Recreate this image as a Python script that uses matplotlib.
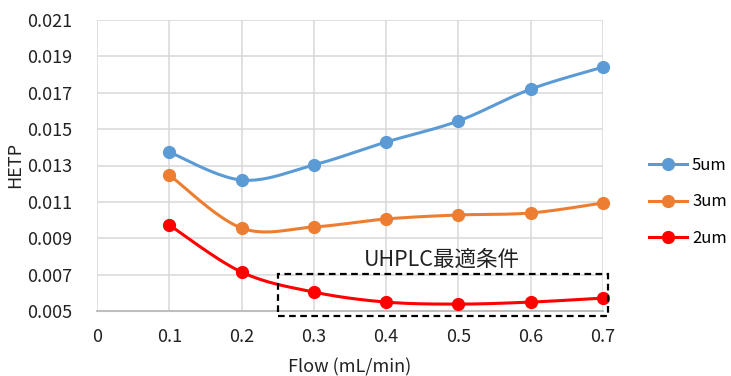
import numpy as np
import matplotlib
matplotlib.use("Agg")
import matplotlib.pyplot as plt
from matplotlib.lines import Line2D
from matplotlib.patches import Rectangle

plt.rcParams['font.family'] = ['Noto Sans CJK JP', 'DejaVu Sans']

flow = [0.1, 0.2, 0.3, 0.4, 0.5, 0.6, 0.7]
hetp_5um = [0.01374, 0.01220, 0.01303, 0.01429, 0.01545, 0.01720, 0.01841]
hetp_3um = [0.01248, 0.00956, 0.00962, 0.01006, 0.01028, 0.01039, 0.01094]
hetp_2um = [0.00973, 0.00714, 0.00604, 0.00549, 0.00538, 0.00549, 0.00571]
series_names = ["5um", "3um", "2um"]
series_colors = ["#5B9BD5", "#ED7D31", "#FF0000"]
xticks = [0, 0.1, 0.2, 0.3, 0.4, 0.5, 0.6, 0.7]
yticks = [0.005, 0.007, 0.009, 0.011, 0.013, 0.015, 0.017, 0.019, 0.021]


def smooth(x, y, n=40):
    """Catmull-Rom style Bezier smoothing through every point."""
    p = np.column_stack([x, y]).astype(float)
    ext = np.vstack([p[0], p, p[-1]])
    out = []
    for i in range(len(p) - 1):
        p0, p1, p2, p3 = ext[i], ext[i + 1], ext[i + 2], ext[i + 3]
        c1 = p1 + (p2 - p0) / 6.0
        c2 = p2 - (p3 - p1) / 6.0
        t = np.linspace(0, 1, n)[:, None]
        seg = ((1 - t) ** 3) * p1 + 3 * ((1 - t) ** 2) * t * c1 + 3 * (1 - t) * t ** 2 * c2 + t ** 3 * p2
        out.append(seg if i == 0 else seg[1:])
    seg = np.vstack(out)
    return seg[:, 0], seg[:, 1]


W, H = 731, 376
fig = plt.figure(figsize=(W / 100, H / 100), dpi=100)
ax = fig.add_axes([97 / W, (H - 311) / H, 506 / W, 291 / H])

grid_c = "#D9D9D9"
for xv in xticks:
    ax.axvline(xv, color=grid_c, lw=1.1, zorder=0)
for yv in yticks:
    ax.axhline(yv, color=grid_c, lw=1.1, zorder=0)

handles = []
for ys, name, col in zip([hetp_5um, hetp_3um, hetp_2um], series_names, series_colors):
    sx, sy = smooth(flow, ys)
    ax.plot(sx, sy, color=col, lw=2.2, solid_capstyle='round', zorder=3)
    ax.plot(flow, ys, 'o', color=col, ms=8.5, zorder=4, clip_on=False)
    handles.append(Line2D([], [], color=col, lw=2.2, marker='o', ms=8.5, label=name))

ax.set_xlim(0, 0.7)
ax.set_ylim(0.005, 0.021)
ax.set_xticks(xticks)
ax.set_xticklabels([f"{v:g}" for v in xticks])
ax.set_yticks(yticks)
ax.set_yticklabels([f"{v:.3f}" for v in yticks])
ax.tick_params(length=0, labelsize=13, colors="#222222")
ax.tick_params(axis='x', pad=12)
ax.tick_params(axis='y', pad=18)
for side in ["top", "right", "left"]:
    ax.spines[side].set_visible(False)
ax.spines["bottom"].set_color("#BFBFBF")
ax.spines["bottom"].set_linewidth(1.5)

ax.set_xlabel("Flow (mL/min)", fontsize=13, color="#222222", labelpad=9)
fig.text(15 / W, 1 - 165 / H, "HETP", rotation=90, fontsize=13, color="#222222",
         ha='center', va='center')

# optimal-condition region
rect = Rectangle((0.25, 0.00473), 0.7065 - 0.25, 0.00703 - 0.00473, fill=False,
                 ls=(0, (3, 2)), lw=1.6, ec="black", clip_on=False, zorder=5)
ax.add_patch(rect)
ax.text(0.4775, 0.0078, "UHPLC最適条件", fontsize=15.5, ha='center', va='center', color="#222222")

fig.legend(handles=handles, loc='center left', bbox_to_anchor=(637 / W, 1 - 202 / H),
           frameon=False, fontsize=12, handlelength=2.3, handletextpad=0.3,
           labelspacing=1.15, borderpad=0.2)

fig.savefig("out.png", dpi=100)
